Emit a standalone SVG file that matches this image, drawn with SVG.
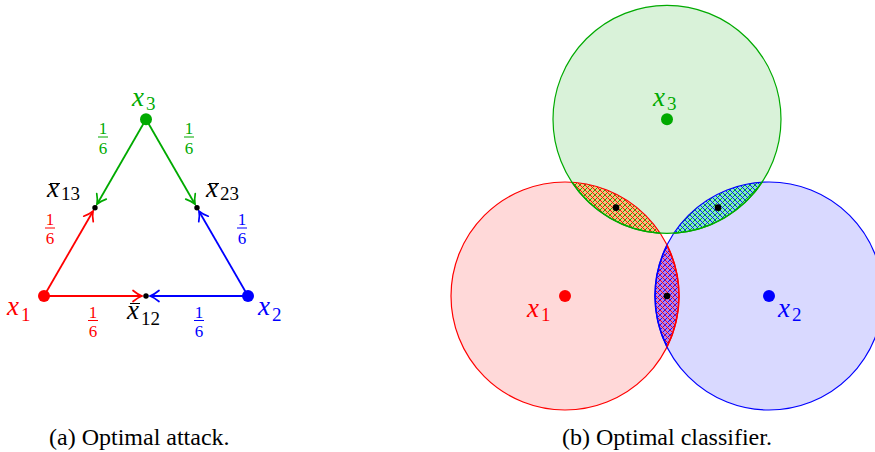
<svg xmlns="http://www.w3.org/2000/svg" width="875" height="452" viewBox="0 0 875 452">
<style>
.mx{font-family:"Liberation Serif",serif;font-style:italic;font-size:27px}
.sb{font-family:"Liberation Serif",serif;font-size:19px}
.fr{font-family:"Liberation Serif",serif;font-size:17px;text-anchor:middle}
.cap{font-family:"Liberation Serif",serif;font-size:24px;fill:#000}
.r{fill:#ff0000}.b{fill:#0000ff}.g{fill:#00aa00}.k{fill:#000}
.ar{fill:none;stroke-width:1.8}
.bar{stroke-width:1}
</style>
<defs>
<marker id="ahR" markerUnits="userSpaceOnUse" markerWidth="16" markerHeight="16" viewBox="-12 -8 14 16" refX="0" refY="0" orient="auto"><path d="M-9,-5.5 Q-4,-1.3 0,0 Q-4,1.3 -9,5.5" fill="none" stroke="#ff0000" stroke-width="1.7" stroke-linecap="round"/></marker>
<marker id="ahB" markerUnits="userSpaceOnUse" markerWidth="16" markerHeight="16" viewBox="-12 -8 14 16" refX="0" refY="0" orient="auto"><path d="M-9,-5.5 Q-4,-1.3 0,0 Q-4,1.3 -9,5.5" fill="none" stroke="#0000ff" stroke-width="1.7" stroke-linecap="round"/></marker>
<marker id="ahG" markerUnits="userSpaceOnUse" markerWidth="16" markerHeight="16" viewBox="-12 -8 14 16" refX="0" refY="0" orient="auto"><path d="M-9,-5.5 Q-4,-1.3 0,0 Q-4,1.3 -9,5.5" fill="none" stroke="#00aa00" stroke-width="1.7" stroke-linecap="round"/></marker>
<pattern id="hRG" patternUnits="userSpaceOnUse" width="5" height="5">
<rect width="5" height="5" fill="#f8c27a"/>
<path d="M-1,1 L1,-1 M0,5 L5,0 M4,6 L6,4" stroke="#00aa00" stroke-width="0.9"/>
<path d="M-1,4 L1,6 M0,0 L5,5 M4,-1 L6,1" stroke="#ff0000" stroke-width="0.9"/>
</pattern>
<pattern id="hBG" patternUnits="userSpaceOnUse" width="5" height="5">
<rect width="5" height="5" fill="#80e8cc"/>
<path d="M-1,1 L1,-1 M0,5 L5,0 M4,6 L6,4" stroke="#00aa00" stroke-width="0.9"/>
<path d="M-1,4 L1,6 M0,0 L5,5 M4,-1 L6,1" stroke="#0000ff" stroke-width="0.9"/>
</pattern>
<pattern id="hRB" patternUnits="userSpaceOnUse" width="5" height="5">
<rect width="5" height="5" fill="#b882ec"/>
<path d="M-1,1 L1,-1 M0,5 L5,0 M4,6 L6,4" stroke="#0000ff" stroke-width="0.9"/>
<path d="M-1,4 L1,6 M0,0 L5,5 M4,-1 L6,1" stroke="#ff0000" stroke-width="0.9"/>
</pattern>
</defs>

<!-- (a) Optimal attack -->
<g id="connectors">
<line class="ar" x1="44" y1="296" x2="142" y2="296" stroke="#ff0000" marker-end="url(#ahR)"/>
<line class="ar" x1="44" y1="296" x2="93" y2="211.2" stroke="#ff0000" marker-end="url(#ahR)"/>
<line class="ar" x1="248" y1="296" x2="150" y2="296" stroke="#0000ff" marker-end="url(#ahB)"/>
<line class="ar" x1="248" y1="296" x2="199" y2="211.2" stroke="#0000ff" marker-end="url(#ahB)"/>
<line class="ar" x1="146" y1="119.3" x2="97" y2="204.2" stroke="#00aa00" marker-end="url(#ahG)"/>
<line class="ar" x1="146" y1="119.3" x2="195" y2="204.2" stroke="#00aa00" marker-end="url(#ahG)"/>
<g id="w-x1-x12"><text class="fr r" x="93" y="317.5">1</text><line class="bar" x1="88" y1="320.5" x2="98" y2="320.5" stroke="#ff0000"/><text class="fr r" x="93" y="337">6</text></g>
<g id="w-x2-x12"><text class="fr b" x="199" y="317.5">1</text><line class="bar" x1="194" y1="320.5" x2="204" y2="320.5" stroke="#0000ff"/><text class="fr b" x="199" y="337">6</text></g>
<g id="w-x3-x13"><text class="fr g" x="103" y="133.5">1</text><line class="bar" x1="98" y1="137" x2="108" y2="137" stroke="#00aa00"/><text class="fr g" x="103" y="153.5">6</text></g>
<g id="w-x3-x23"><text class="fr g" x="189" y="133.5">1</text><line class="bar" x1="184" y1="137" x2="194" y2="137" stroke="#00aa00"/><text class="fr g" x="189" y="153.5">6</text></g>
<g id="w-x1-x13"><text class="fr r" x="50" y="224.5">1</text><line class="bar" x1="45" y1="228" x2="55" y2="228" stroke="#ff0000"/><text class="fr r" x="50" y="243.5">6</text></g>
<g id="w-x2-x23"><text class="fr b" x="242" y="224.5">1</text><line class="bar" x1="237" y1="228" x2="247" y2="228" stroke="#0000ff"/><text class="fr b" x="242" y="243.5">6</text></g>
</g>
<g id="a-x1"><circle cx="44" cy="296" r="6" fill="#ff0000"/><text class="mx r" x="7" y="315">x</text><text class="sb r" x="21" y="321">1</text></g>
<g id="a-x2"><circle cx="248" cy="296" r="6" fill="#0000ff"/><text class="mx b" x="258" y="315">x</text><text class="sb b" x="272" y="321">2</text></g>
<g id="a-x3"><circle cx="146" cy="119.3" r="6" fill="#00aa00"/><text class="mx g" x="132" y="106">x</text><text class="sb g" x="146" y="110">3</text></g>
<g id="a-x12"><circle cx="146" cy="296" r="2.7" fill="#000"/><text class="mx k" x="127" y="319">x</text><line x1="130" y1="303.5" x2="140" y2="303.5" stroke="#000" stroke-width="1"/><text class="sb k" x="141" y="325">12</text></g>
<g id="a-x13"><circle cx="95" cy="207.7" r="2.7" fill="#000"/><text class="mx k" x="47" y="197">x</text><line x1="50" y1="183.5" x2="60" y2="183.5" stroke="#000" stroke-width="1"/><text class="sb k" x="61" y="200">13</text></g>
<g id="a-x23"><circle cx="197" cy="207.7" r="2.7" fill="#000"/><text class="mx k" x="206" y="197">x</text><line x1="209" y1="183.5" x2="219" y2="183.5" stroke="#000" stroke-width="1"/><text class="sb k" x="220" y="200">23</text></g>

<!-- (b) Optimal classifier -->
<g id="b-regions">
<circle cx="565" cy="296" r="114" fill="#ffd9d9"/>
<circle cx="769" cy="296" r="114" fill="#d9d9ff"/>
<circle cx="667" cy="119.33" r="114" fill="#d9f2d9"/>
<path id="lens13" d="M571.91,182.21 A114,114 0 0 0 660.09,233.13 A114,114 0 0 0 571.91,182.21 Z" fill="url(#hRG)"/>
<path id="lens23" d="M762.09,182.21 A114,114 0 0 1 673.91,233.13 A114,114 0 0 1 762.09,182.21 Z" fill="url(#hBG)"/>
<path id="lens12" d="M667,245.09 A114,114 0 0 0 667,346.91 A114,114 0 0 0 667,245.09 Z" fill="url(#hRB)"/>
<circle cx="565" cy="296" r="114" fill="none" stroke="#ff0000" stroke-width="1.2"/>
<circle cx="769" cy="296" r="114" fill="none" stroke="#0000ff" stroke-width="1.2"/>
<circle cx="667" cy="119.33" r="114" fill="none" stroke="#00aa00" stroke-width="1.2"/>
<path d="M571.91,182.21 A114,114 0 0 0 660.09,233.13" fill="none" stroke="#00aa00" stroke-width="1.5"/>
<path d="M762.09,182.21 A114,114 0 0 1 673.91,233.13" fill="none" stroke="#00aa00" stroke-width="1.5"/>
<path d="M667,245.09 A114,114 0 0 0 667,346.91" fill="none" stroke="#0000ff" stroke-width="1.5"/>
<path d="M667,245.09 A114,114 0 0 1 667,346.91" fill="none" stroke="#ff0000" stroke-width="1.5"/>
</g>
<g id="b-x1"><circle cx="565" cy="296" r="6" fill="#ff0000"/><text class="mx r" x="527" y="317">x</text><text class="sb r" x="541" y="321">1</text></g>
<g id="b-x2"><circle cx="769" cy="296" r="6" fill="#0000ff"/><text class="mx b" x="778" y="317">x</text><text class="sb b" x="792" y="321">2</text></g>
<g id="b-x3"><circle cx="667" cy="119.33" r="6" fill="#00aa00"/><text class="mx g" x="653" y="106">x</text><text class="sb g" x="667" y="110">3</text></g>
<g id="b-m12"><circle cx="667" cy="296" r="3.3" fill="#000"/></g>
<g id="b-m13"><circle cx="616" cy="207.67" r="3.3" fill="#000"/></g>
<g id="b-m23"><circle cx="718" cy="207.67" r="3.3" fill="#000"/></g>

<text class="cap" x="49" y="445">(a) Optimal attack.</text>
<text class="cap" x="562" y="445">(b) Optimal classifier.</text>
</svg>
